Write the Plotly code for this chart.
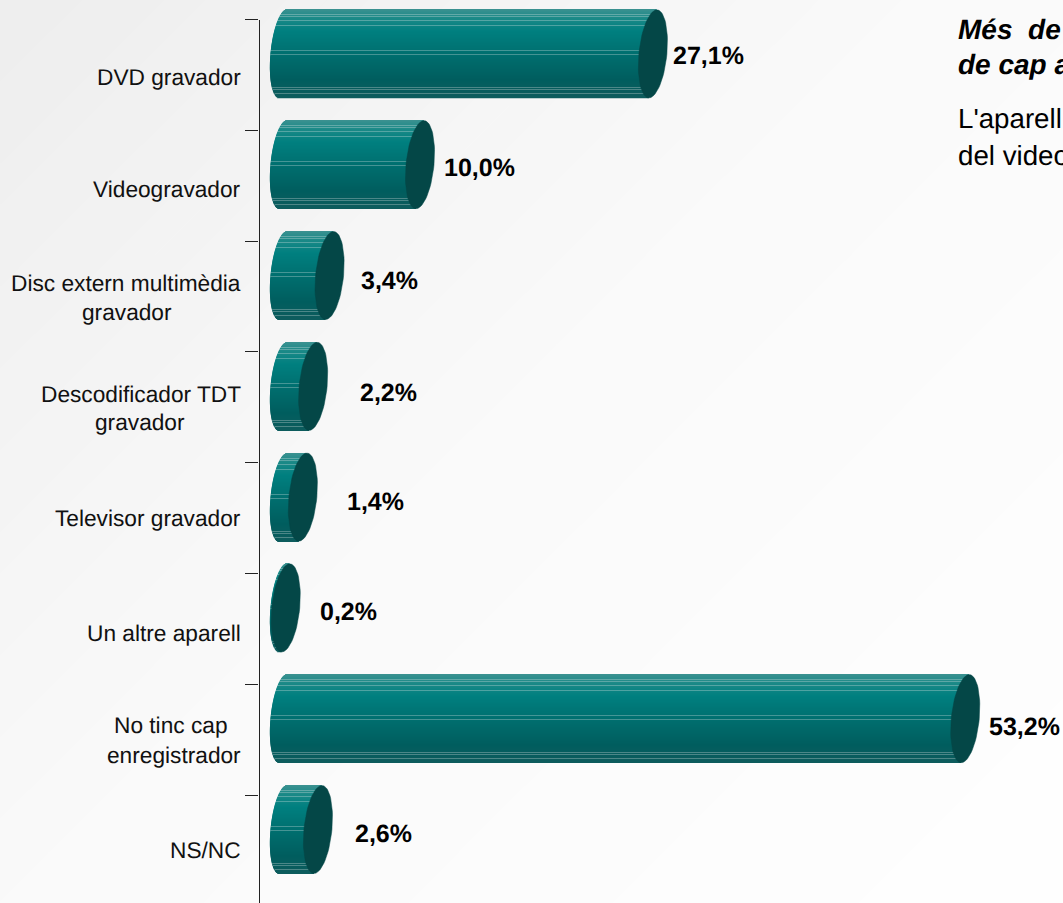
import numpy as np
import plotly.graph_objects as go

W, H = 1063, 903

categories = [
    ["DVD gravador"],
    ["Videogravador"],
    ["Disc extern multimèdia", "gravador"],
    ["Descodificador TDT", "gravador"],
    ["Televisor gravador"],
    ["Un altre aparell"],
    ["No tinc cap", "enregistrador"],
    ["NS/NC"],
]
value_labels = ["27,1%", "10,0%", "3,4%", "2,2%", "1,4%", "0,2%", "53,2%", "2,6%"]
# bar lengths as they are drawn in the picture
drawn_lengths = [27.0, 10.0, 3.4, 2.2, 1.45, 0.2, 49.8, 2.55]

# ---- style / layout -------------------------------------------------------
AXIS_PX = 259.5
ZERO_PX = 283.0
PX_PER_UNIT = 13.7
TOP_TICK_PX = 19.5
STEP_PX = 110.8
BAR_RAISE_PX = 21.0
BAR_HALF_PX = 44.0
CAP_W_PX = 14.0
CAP_S_PX = 4.0
LEFT_W_PX = 12.5
FONT = "Liberation Sans"

label_xshift = [56, 59, 60, 75, 73, 63, 59, 66]
label_yshift = [1, 2, 4, 6, 4, 3, 7, 3]
line_right_px = [[242.5], [242.5], [242.5, 173.5], [242.5, 186.5], [242.5], [242.5], [230.0, 242.5], [242.5]]
line_center_shift = [[2.5], [3.5], [-14, 15.5], [-13.5, 15], [0], [4], [-14.5, 15.5], [-0.5]]

n = len(categories)
idx = np.arange(n)
x_range = [(AXIS_PX - ZERO_PX) / PX_PER_UNIT, (W - ZERO_PX) / PX_PER_UNIT]
y2_range = [-0.5 + (H - TOP_TICK_PX) / STEP_PX, -0.5]
y_range = [y2_range[0], -0.5 - TOP_TICK_PX / STEP_PX]
lengths = np.array(drawn_lengths)
bar_centers = idx - BAR_RAISE_PX / STEP_PX

fig = go.Figure()

# cylinder body: thin horizontal strips, each cut by the left ellipse
stops_t = [0.0, 0.1, 0.25, 0.5, 0.8, 1.0]
stops_rgb = np.array([[60, 146, 145], [28, 138, 136], [0, 128, 128], [0, 112, 112], [0, 94, 95], [14, 92, 93]])
stripe_rows = [0.06, 0.09, 0.13, 0.19, 0.47, 0.52, 0.89, 0.92, 0.96]
rows = int(2 * BAR_HALF_PX)
for r in range(rows):
    t = (r + 0.5) / rows
    rgb = [np.interp(t, stops_t, stops_rgb[:, c]) for c in range(3)]
    if any(abs(t - s) < 0.5 / rows for s in stripe_rows):
        rgb = [v + 0.3 * (235 - v) for v in rgb]
    u = 1 - 2 * t
    left = (CAP_S_PX * u - LEFT_W_PX * np.sqrt(1 - u * u)) / PX_PER_UNIT
    end = lengths + CAP_S_PX * u / PX_PER_UNIT
    fig.add_trace(go.Bar(
        orientation="h",
        y=bar_centers,
        x=end - left,
        base=left,
        width=1.25 / STEP_PX,
        offset=(r - BAR_HALF_PX) / STEP_PX,
        marker=dict(color="rgb(%d,%d,%d)" % tuple(rgb), line=dict(width=0)),
        hoverinfo="skip",
        showlegend=False,
    ))

# end caps
theta = np.linspace(0, 2 * np.pi, 73)
cap_x, cap_y = [], []
for L, c in zip(lengths, bar_centers):
    cap_x += list(L + (CAP_W_PX * np.cos(theta) + CAP_S_PX * np.sin(theta)) / PX_PER_UNIT) + [None]
    cap_y += list(c - BAR_HALF_PX * np.sin(theta) / STEP_PX) + [None]
fig.add_trace(go.Scatter(x=cap_x, y=cap_y, mode="lines", fill="toself", fillcolor="#044747",
                         line=dict(width=0.5, color="#044747"), hoverinfo="skip", showlegend=False))

# invisible trace to carry the tick axis
fig.add_trace(go.Scatter(x=[0] * n, y=idx, yaxis="y2", mode="markers", marker=dict(opacity=0),
                         hoverinfo="skip", showlegend=False))

annotations = []
for i, txt in enumerate(value_labels):
    annotations.append(dict(x=lengths[i], y=bar_centers[i], xref="x", yref="y", text="<b>%s</b>" % txt,
                            showarrow=False, xanchor="center", yanchor="middle",
                            xshift=label_xshift[i], yshift=-label_yshift[i],
                            font=dict(family=FONT, size=25, color="#000000")))
for i, lines in enumerate(categories):
    for j, line in enumerate(lines):
        annotations.append(dict(x=line_right_px[i][j] / W, y=i, xref="paper", yref="y", text=line,
                                showarrow=False, xanchor="right", yanchor="middle",
                                yshift=-line_center_shift[i][j],
                                font=dict(family=FONT, size=22.7, color="#111111")))

side_text = [
    ("<b><i>Més\u00a0\u00a0de</i></b>", 30, 28),
    ("<b><i>de cap a</i></b>", 65, 28),
    ("L'aparell", 118, 27.7),
    ("del video", 155, 27.7),
]
for txt, ypx, size in side_text:
    annotations.append(dict(x=956 / W, y=1 - ypx / H, xref="paper", yref="paper", text=txt, showarrow=False,
                            xanchor="left", yanchor="middle", font=dict(family=FONT, size=size, color="#000000")))

# diagonal background gradient
shapes = []
bands = 48
span = W + H
for b in range(bands):
    a0 = span * b / bands
    a1 = span * (b + 1) / bands + 1
    g = np.interp((a0 + a1) / 2, [0, 0.45 * span, span], [238, 250, 255])
    pts = [(a0, 0), (a1, 0), (0, a1), (0, a0)]
    path = "M" + " L".join("%.4f,%.4f" % (px / W, 1 - py / H) for px, py in pts) + " Z"
    shapes.append(dict(type="path", xref="paper", yref="paper", path=path, layer="below",
                       fillcolor="rgb(%d,%d,%d)" % (g, g, g), line=dict(width=0)))

fig.update_layout(
    width=W, height=H, margin=dict(l=0, r=0, t=0, b=0),
    barmode="overlay", showlegend=False,
    paper_bgcolor="white", plot_bgcolor="rgba(0,0,0,0)",
    xaxis=dict(domain=[AXIS_PX / W, 1], range=x_range, visible=False, fixedrange=True),
    yaxis=dict(domain=[0, 1], range=y_range, visible=False, fixedrange=True),
    yaxis2=dict(domain=[0, 1 - TOP_TICK_PX / H], range=y2_range, anchor="x", overlaying=None,
                tickmode="array", tickvals=list(idx - 0.5), ticktext=[""] * n,
                ticks="outside", ticklen=13, tickwidth=1.3, tickcolor="#222222",
                showline=True, linecolor="#222222", linewidth=1.3, showgrid=False, zeroline=False,
                showticklabels=False, fixedrange=True),
    annotations=annotations, shapes=shapes,
)
post = ("document.body.style.margin='0';document.body.style.overflow='hidden';"
        "var st=document.createElement('style');"
        "st.textContent='text{text-rendering:geometricPrecision;}';"
        "document.head.appendChild(st);")
fig.write_html("out.html", post_script=post, config={"displayModeBar": False})
